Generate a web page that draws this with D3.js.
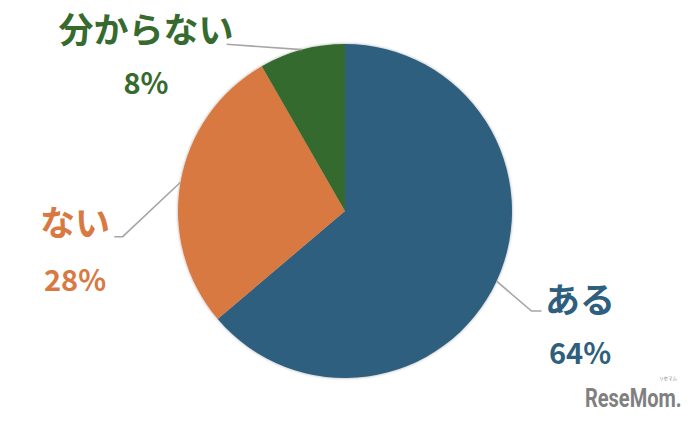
<!DOCTYPE html>
<html><head><meta charset="utf-8">
<script src="https://cdn.jsdelivr.net/npm/d3@7"></script>
<style>body{margin:0;background:#fff;}svg{display:block;}</style>
</head><body>
<svg id="c" width="695" height="421"></svg>
<script>
const categories = ["ある", "ない", "分からない"];
const values = [63.8, 27.9, 8.3];
const percentLabels = ["64%", "28%", "8%"];
const colors = ["#2f5f7f", "#d97942", "#366a2e"];

const svg = d3.select("#c");
const cx = 345, cy = 211, r = 167;

const defs = svg.append("defs");
const f = defs.append("filter").attr("id","sh").attr("x","-10%").attr("y","-10%").attr("width","120%").attr("height","120%");
f.append("feDropShadow").attr("dx",0).attr("dy",0).attr("stdDeviation",1.5).attr("flood-color","#000").attr("flood-opacity",0.35);

const pie = d3.pie().sort(null).value(d => d)(values);
const arc = d3.arc().innerRadius(0).outerRadius(r);
const g = svg.append("g").attr("transform", `translate(${cx},${cy})`);
g.append("g").attr("filter","url(#sh)").selectAll("path").data(pie).enter().append("path")
  .attr("d", arc).attr("fill", (d,i) => colors[i]);

// leader lines (pie-edge point computed from the arc mid angle)
const edge = d => { const a = (d.startAngle + d.endAngle) / 2; return [cx + r*Math.sin(a), cy - r*Math.cos(a)]; };
const leaders = [
  { i: 0, pts: [[531.5, 311], [541.5, 311]] },
  { i: 1, pts: [[122.7, 236.7], [114.3, 236.7]] },
  { i: 2, pts: [[226.7, 44.3]] }
];
leaders.forEach(L => {
  const p0 = edge(pie[L.i]);
  svg.append("polyline").attr("points", [p0].concat(L.pts).map(p => p.join(",")).join(" "))
    .attr("fill","none").attr("stroke","#a6a6a6").attr("stroke-width",1.6);
});

const labelPos = [[580, 297, 351], [75, 220, 278], [146, 27, 81]];
const font = "'Noto Sans CJK JP','Noto Sans',sans-serif";
categories.forEach((c, i) => {
  const [x, y1, y2] = labelPos[i];
  svg.append("text").attr("x", x).attr("y", y1).attr("text-anchor","middle").attr("dominant-baseline","central")
    .attr("font-family", font).attr("font-weight","bold").attr("font-size", 35).attr("fill", colors[i]).text(c);
  svg.append("text").attr("x", x).attr("y", y2).attr("text-anchor","middle").attr("dominant-baseline","central")
    .attr("font-family", font).attr("font-weight","bold").attr("font-size", 29).attr("fill", colors[i]).text(percentLabels[i]);
});

// watermark
svg.append("text").attr("transform", "translate(585,407) scale(0.8,1)").attr("font-family","Roboto,sans-serif")
  .attr("font-weight","bold").attr("font-size", 25).attr("fill","#808080").text("ReseMom.");
svg.append("text").attr("x", 668).attr("y", 380).attr("text-anchor","middle").attr("font-family", font)
  .attr("font-size", 4.5).attr("fill","#808080").text("リセマム");
</script>
</body></html>
